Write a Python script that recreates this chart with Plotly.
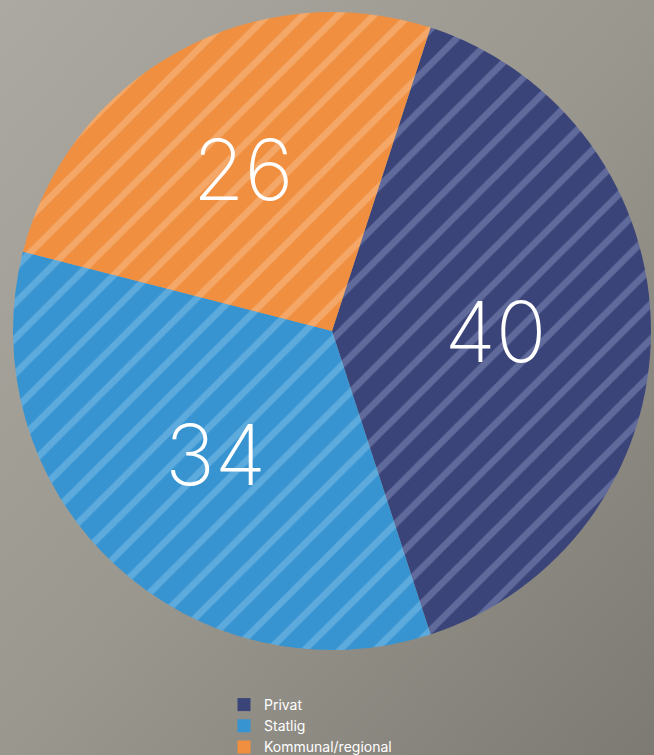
import base64
import plotly.graph_objects as go

labels = ["Privat", "Statlig", "Kommunal/regional"]
values = [40, 34, 26]
colors = ["#3B4479", "#3794D1", "#F08F40"]
stripe_colors = ["#606A9B", "#5DAADD", "#F4A766"]

svg = """<svg xmlns='http://www.w3.org/2000/svg' width='654' height='755' viewBox='0 0 654 755' preserveAspectRatio='none'>
<defs><linearGradient id='g' x1='0' y1='0' x2='1' y2='1'>
<stop offset='0' stop-color='#ABA9A1'/><stop offset='0.5' stop-color='#9A978F'/><stop offset='1' stop-color='#7D7A73'/>
</linearGradient></defs><rect width='654' height='755' fill='url(#g)'/></svg>"""
bg_uri = "data:image/svg+xml;base64," + base64.b64encode(svg.encode()).decode()

W, H = 654, 755
cx, cy, R = 332, 331, 319

fig = go.Figure()
fig.add_trace(go.Pie(
    labels=labels,
    values=values,
    sort=False,
    direction="clockwise",
    rotation=18,
    marker=dict(
        colors=colors,
        line=dict(width=0),
        pattern=dict(shape="/", fgcolor=stripe_colors, bgcolor=colors, fgopacity=1,
                     size=25, solidity=0.27, fillmode="replace"),
    ),
    textinfo="value",
    textposition="inside",
    insidetextorientation="horizontal",
    textfont=dict(family="Inter", size=84, color="white", weight=170),
    domain=dict(x=[(cx - R) / W, (cx + R) / W], y=[(H - cy - R) / H, (H - cy + R) / H]),
    hoverinfo="label+value",
    showlegend=False,
))

for lab, col in zip(labels, colors):
    fig.add_trace(go.Scatter(x=[None], y=[None], mode="markers", name=lab,
                             marker=dict(symbol="square", size=13, color=col),
                             showlegend=True))

fig.update_layout(
    width=W, height=H, autosize=False,
    margin=dict(l=0, r=0, t=0, b=0, autoexpand=False),
    paper_bgcolor="#9A978F",
    plot_bgcolor="rgba(0,0,0,0)",
    xaxis=dict(visible=False),
    yaxis=dict(visible=False),
    images=[dict(source=bg_uri, xref="paper", yref="paper", x=0, y=1, sizex=1, sizey=1,
                 sizing="stretch", layer="below", xanchor="left", yanchor="top")],
    showlegend=True,
    legend=dict(x=(240 - 16) / W, xanchor="left", y=(H - 689) / H, yanchor="top",
                font=dict(family="Inter", size=14, color="white"),
                bgcolor="rgba(0,0,0,0)", itemwidth=30, tracegroupgap=0),
)

fig.write_html("out.html", config={"responsive": False, "displayModeBar": False},
               post_script="document.body.style.margin='0';document.body.style.overflow='hidden';")
